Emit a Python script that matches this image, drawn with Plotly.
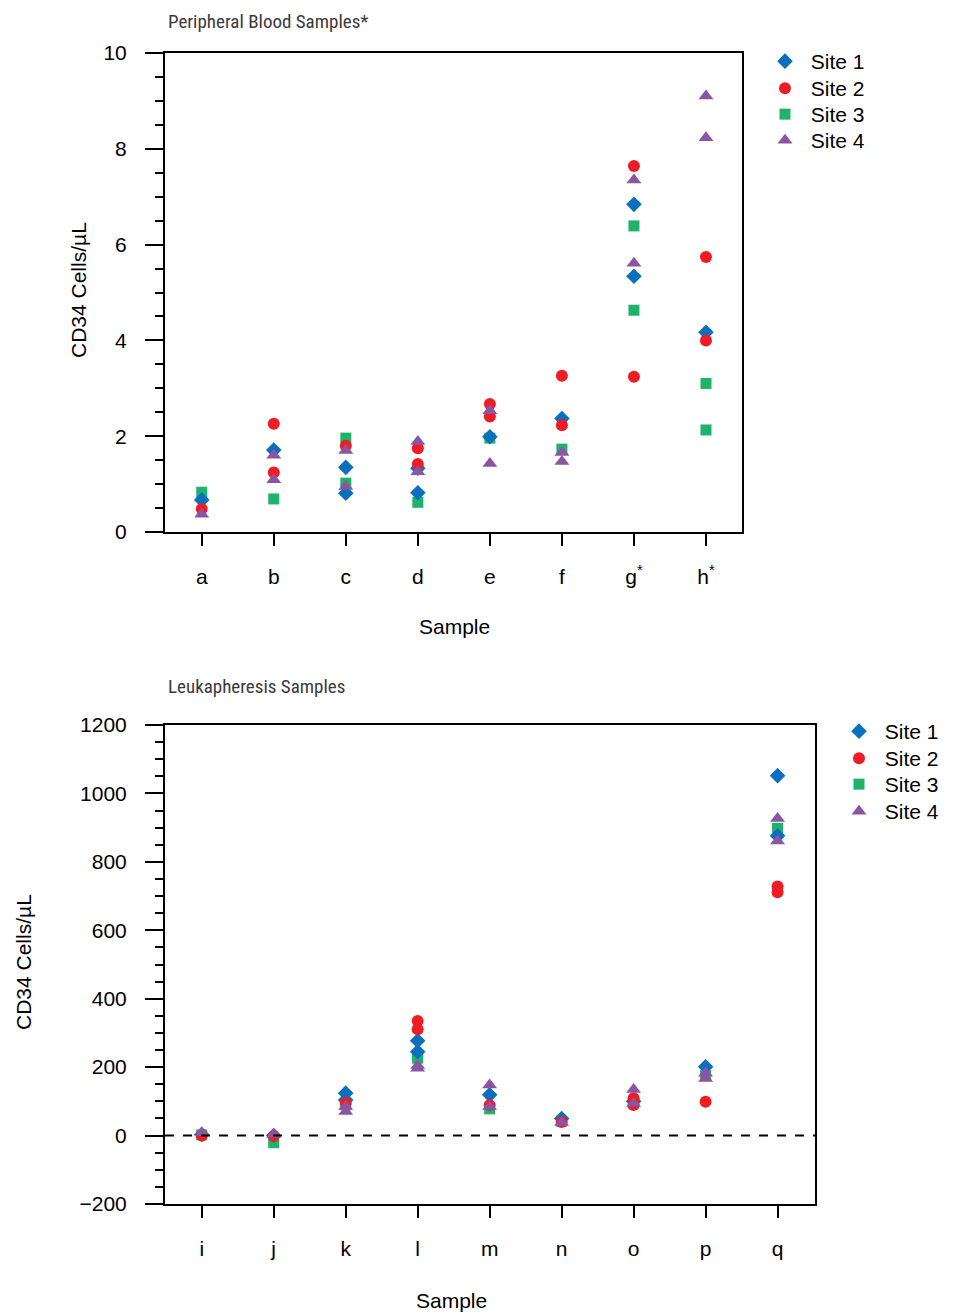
import plotly.graph_objects as go

# page body has an 8px margin; figure is sized so page == window
OFF = 8
W, H = 959 - OFF, 1316 - OFF

# ---------------- data ----------------
pb_samples = ["a", "b", "c", "d", "e", "f", "g", "h"]
pb_ticktext = ["a", "b", "c", "d", "e", "f", "g<sup>*</sup>", "h<sup>*</sup>"]
pb_site1 = [[0.67], [1.71], [1.35, 0.81], [1.33, 0.82], [1.99], [2.37], [6.84, 5.34], [4.17]]
pb_site2 = [[0.48], [2.26, 1.24], [1.80], [1.75, 1.42], [2.67, 2.41], [3.26, 2.23], [7.64, 3.24], [5.74, 4.00]]
pb_site3 = [[0.83], [0.69], [1.96, 1.02], [0.62], [1.96], [1.73], [6.39, 4.63], [3.10, 2.13]]
pb_site4 = [[0.37], [1.60, 1.09], [1.70, 0.95], [1.89, 1.26], [2.53, 1.43], [1.66, 1.47], [7.35, 5.61], [9.10, 8.23]]

lk_samples = ["i", "j", "k", "l", "m", "n", "o", "p", "q"]
lk_site1 = [[3], [0], [124, 104], [277, 245], [119], [50], [100], [201], [1052, 876]]
lk_site2 = [[0], [-1], [95], [335, 311], [89], [40], [109, 89], [99], [728, 711]]
lk_site3 = [[2], [-21], [90], [226, 232], [78], [42], [95], [175], [898]]
lk_site4 = [[8], [3], [85, 70], [205, 197], [148, 85], [38], [135, 94], [182, 167], [927, 861]]

site_names = ["Site 1", "Site 2", "Site 3", "Site 4"]
site_colors = ["#0a70bd", "#ee1c25", "#1fb26b", "#8c55a4"]
site_symbols = ["diamond", "circle", "square", "triangle-up"]
site_sizes = [12, 12, 11, 13]

FONT = "Liberation Sans, Arial, sans-serif"
FS = 21


def flatten(samples, values):
    xs, ys = [], []
    for s, vals in zip(samples, values):
        for v in vals:
            xs.append(s)
            ys.append(v)
    return xs, ys


def px_x(p):
    return (p - OFF) / W


def px_y(p):
    return 1 - (p - OFF) / H


fig = go.Figure()

draw_order = [2, 0, 1, 3]
pb_all = [pb_site1, pb_site2, pb_site3, pb_site4]
lk_all = [lk_site1, lk_site2, lk_site3, lk_site4]

# one legend box per entry so the entry spacing can match the reference
legend_top_px = [41, 68, 94, 120]
legend_bot_px = [711, 738, 764, 791]
legend_boxes = {}
for i in range(4):
    legend_boxes["legend" if i == 0 else f"legend{i + 1}"] = (765, legend_top_px[i])
    legend_boxes[f"legend{i + 5}"] = (839, legend_bot_px[i])

for i in draw_order:
    xs, ys = flatten(pb_samples, pb_all[i])
    fig.add_trace(go.Scatter(
        x=xs, y=ys, mode="markers", name="\u00a0" + site_names[i],
        marker=dict(symbol=site_symbols[i], color=site_colors[i], size=site_sizes[i], line=dict(width=0)),
        xaxis="x", yaxis="y", legend="legend" if i == 0 else f"legend{i + 1}",
    ))
for i in draw_order:
    xs, ys = flatten(lk_samples, lk_all[i])
    fig.add_trace(go.Scatter(
        x=xs, y=ys, mode="markers", name="\u00a0" + site_names[i],
        marker=dict(symbol=site_symbols[i], color=site_colors[i], size=site_sizes[i], line=dict(width=0)),
        xaxis="x2", yaxis="y2", legend=f"legend{i + 5}",
    ))

axis_common = dict(
    showline=True, linecolor="black", linewidth=2, mirror=True,
    ticks="outside", tickcolor="black", tickwidth=2,
    showgrid=False, zeroline=False, automargin=False,
    tickfont=dict(family=FONT, size=FS, color="black"),
)

fig.update_layout(
    template="none",
    width=W, height=H,
    margin=dict(l=0, r=0, t=0, b=0, autoexpand=False),
    paper_bgcolor="white", plot_bgcolor="white",
    font=dict(family=FONT, color="black"),
    xaxis=dict(
        axis_common, domain=[px_x(165), px_x(742)], anchor="y",
        type="category", categoryorder="array", categoryarray=pb_samples,
        tickmode="array", tickvals=pb_samples, ticktext=pb_ticktext,
        range=[-0.51, 7.5], ticklen=12, ticklabelstandoff=13,
    ),
    yaxis=dict(
        axis_common, domain=[px_y(532), px_y(53)], anchor="x",
        range=[0, 10], tickvals=[0, 2, 4, 6, 8, 10], ticklen=18, ticklabelstandoff=14,
        minor=dict(dtick=0.5, ticklen=8, ticks="outside", tickcolor="black", tickwidth=2),
    ),
    xaxis2=dict(
        axis_common, domain=[px_x(165), px_x(815)], anchor="y2",
        type="category", categoryorder="array", categoryarray=lk_samples,
        range=[-0.51, 8.52], ticklen=12, ticklabelstandoff=13,
    ),
    yaxis2=dict(
        axis_common, domain=[px_y(1204), px_y(725)], anchor="x2",
        range=[-200, 1200], tickvals=[-200, 0, 200, 400, 600, 800, 1000, 1200],
        ticktext=["\u2212200", "0", "200", "400", "600", "800", "1000", "1200"],
        ticklen=18, ticklabelstandoff=14,
        minor=dict(dtick=50, ticklen=8, ticks="outside", tickcolor="black", tickwidth=2),
    ),
    showlegend=True,
)

for name, (lx, ly) in legend_boxes.items():
    fig.update_layout({name: dict(
        x=px_x(lx), y=px_y(ly), xanchor="left", yanchor="top",
        font=dict(family=FONT, size=FS, color="black"),
        bgcolor="rgba(0,0,0,0)", tracegroupgap=0, itemwidth=30,
    )})

# dashed zero line on the leukapheresis panel
fig.add_shape(type="line", xref="x2 domain", yref="y2", x0=0, x1=1, y0=0, y1=0,
              line=dict(color="black", width=2, dash="dash"))

TITLE_FONT = dict(family="Liberation Sans Narrow, Roboto Condensed, Arial Narrow, sans-serif", size=19, color="#3a3a3a")
AX_FONT = dict(family=FONT, size=FS, color="black")

annotations = [
    dict(text="Peripheral Blood Samples*", x=px_x(167), y=px_y(21), xanchor="left", yanchor="middle", font=TITLE_FONT, borderpad=0),
    dict(text="Leukapheresis Samples", x=px_x(167), y=px_y(686), xanchor="left", yanchor="middle", font=TITLE_FONT, borderpad=0),
    dict(text="CD34 Cells/\u00b5L", x=px_x(78), y=px_y(290), textangle=-90, xanchor="center", yanchor="middle", font=AX_FONT),
    dict(text="CD34 Cells/\u00b5L", x=px_x(23), y=px_y(962), textangle=-90, xanchor="center", yanchor="middle", font=AX_FONT),
    dict(text="Sample", x=px_x(454), y=px_y(627), xanchor="center", yanchor="middle", font=AX_FONT),
    dict(text="Sample", x=px_x(451), y=px_y(1300), xanchor="center", yanchor="middle", font=AX_FONT),
]
for a in annotations:
    fig.add_annotation(xref="paper", yref="paper", showarrow=False, **a)

fig.write_html("out.html")
